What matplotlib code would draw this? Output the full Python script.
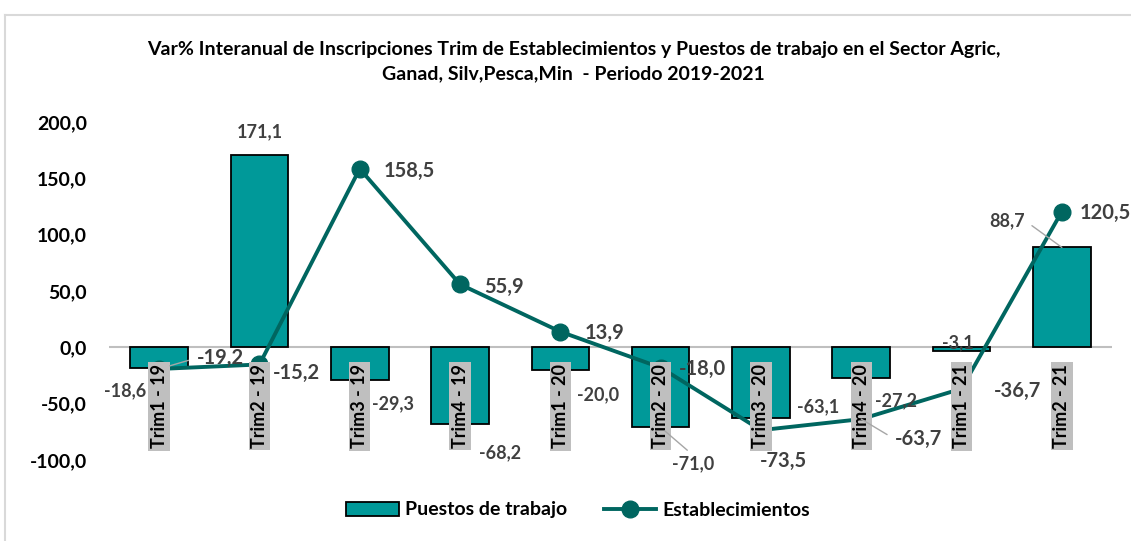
import matplotlib.pyplot as plt
from matplotlib.lines import Line2D

plt.rcParams['font.family'] = ['Lato', 'DejaVu Sans']

categorias = ["Trim1 - 19", "Trim2 - 19", "Trim3 - 19", "Trim4 - 19", "Trim1 - 20",
              "Trim2 - 20", "Trim3 - 20", "Trim4 - 20", "Trim1 - 21", "Trim2 - 21"]
puestos = [-18.6, 171.1, -29.3, -68.2, -20.0, -71.0, -63.1, -27.2, -3.1, 88.7]
establecimientos = [-19.2, -15.2, 158.5, 55.9, 13.9, -18.0, -73.5, -63.7, -36.7, 120.5]
yticks = [-100, -50, 0, 50, 100, 150, 200]

titulo = ("Var% Interanual de Inscripciones Trim de Establecimientos y Puestos de trabajo en el Sector Agric,\n"
          "Ganad, Silv,Pesca,Min  - Periodo 2019-2021")

# label offsets in pixels (dx, dy), hand placed like the original
off_bar = [(-34, -22), (0, 23), (33, -23), (40, -29), (38, -25),
           (32, -36), (57, 12), (35, -23), (-4, 8), (-55, 27)]
off_line = [(61, 11), (37, -9), (50, -2), (44, -3), (44, -1),
            (42, -1), (22, -31), (57, -20), (56, -2), (43, -1)]

bar_color = "#009999"
line_color = "#006660"
lbl_color = "#404040"


def fmt(v):
    return f"{v:.1f}".replace(".", ",")


fig = plt.figure(figsize=(11.31, 5.41), dpi=100)
ax = fig.add_axes([109 / 1131, 1 - 460 / 541, 1003 / 1131, 338 / 541])

x = list(range(len(categorias)))
ax.bar(x, puestos, width=0.575, color=bar_color, edgecolor="black", linewidth=1.3, zorder=2)
ax.plot(x, establecimientos, color=line_color, lw=2.8, marker="o", ms=12, zorder=3)
ax.axhline(0, color="#bfbfbf", lw=1.5, zorder=1)

ax.set_xlim(-0.5, 9.5)
ax.set_ylim(-100, 200)
ax.set_xticks([])
ax.set_yticks(yticks)
ax.set_yticklabels([fmt(t) for t in yticks], fontsize=14, fontweight="bold")
ax.tick_params(axis="y", length=0, pad=16)
for s in ax.spines.values():
    s.set_visible(False)

# category labels in grey boxes inside the plot
for i, c in enumerate(categorias):
    ax.text(i, -52.4, c, rotation=90, ha="center", va="center", fontsize=13,
            fontweight="bold", color="black", zorder=5,
            bbox=dict(boxstyle="square,pad=0.12", fc="#bfbfbf", ec="none"))

leader = dict(arrowstyle="-", color="#a6a6a6", lw=1)

for i, v in enumerate(puestos):
    kw = {}
    if i == 5:
        kw["arrowprops"] = dict(leader, relpos=(0.5, 1), shrinkA=2, shrinkB=4)
    if i == 9:
        kw["arrowprops"] = dict(leader, relpos=(1, 0.5), shrinkA=4, shrinkB=0)
    ax.annotate(fmt(v), (i, v), xytext=off_bar[i], textcoords="offset pixels",
                ha="center", va="center", fontsize=13, fontweight="bold",
                color=lbl_color, zorder=6, **kw)

for i, v in enumerate(establecimientos):
    kw = {}
    if i == 0:
        kw["arrowprops"] = dict(leader, relpos=(0, 0.5), shrinkA=4, shrinkB=8)
    if i == 7:
        kw["arrowprops"] = dict(leader, relpos=(0, 0.5), shrinkA=4, shrinkB=30)
    ax.annotate(fmt(v), (i, v), xytext=off_line[i], textcoords="offset pixels",
                ha="center", va="center", fontsize=14.5, fontweight="bold",
                color=lbl_color, zorder=6, **kw)

fig.text(0.507, 1 - 62 / 541, titulo, ha="center", va="center", fontsize=14,
         fontweight="bold", linespacing=1.5)

handles = [plt.Rectangle((0, 0), 1, 1, fc=bar_color, ec="black", lw=1.3),
           Line2D([], [], color=line_color, lw=2.8, marker="o", ms=12)]
fig.legend(handles, ["Puestos de trabajo", "Establecimientos"], loc="center",
           bbox_to_anchor=(0.511, 1 - 510 / 541), ncol=2, frameon=False,
           prop=dict(size=14, weight="bold"), handlelength=2.7,
           handletextpad=0.3, columnspacing=1.9)

# light frame of the chart area
fig.add_artist(Line2D([5 / 1131, 1], [1 - 15 / 541, 1 - 15 / 541], color="#d9d9d9", lw=1.5))
fig.add_artist(Line2D([5 / 1131, 5 / 1131], [0, 1 - 15 / 541], color="#d9d9d9", lw=1.5))

fig.savefig("out.png", dpi=100)
